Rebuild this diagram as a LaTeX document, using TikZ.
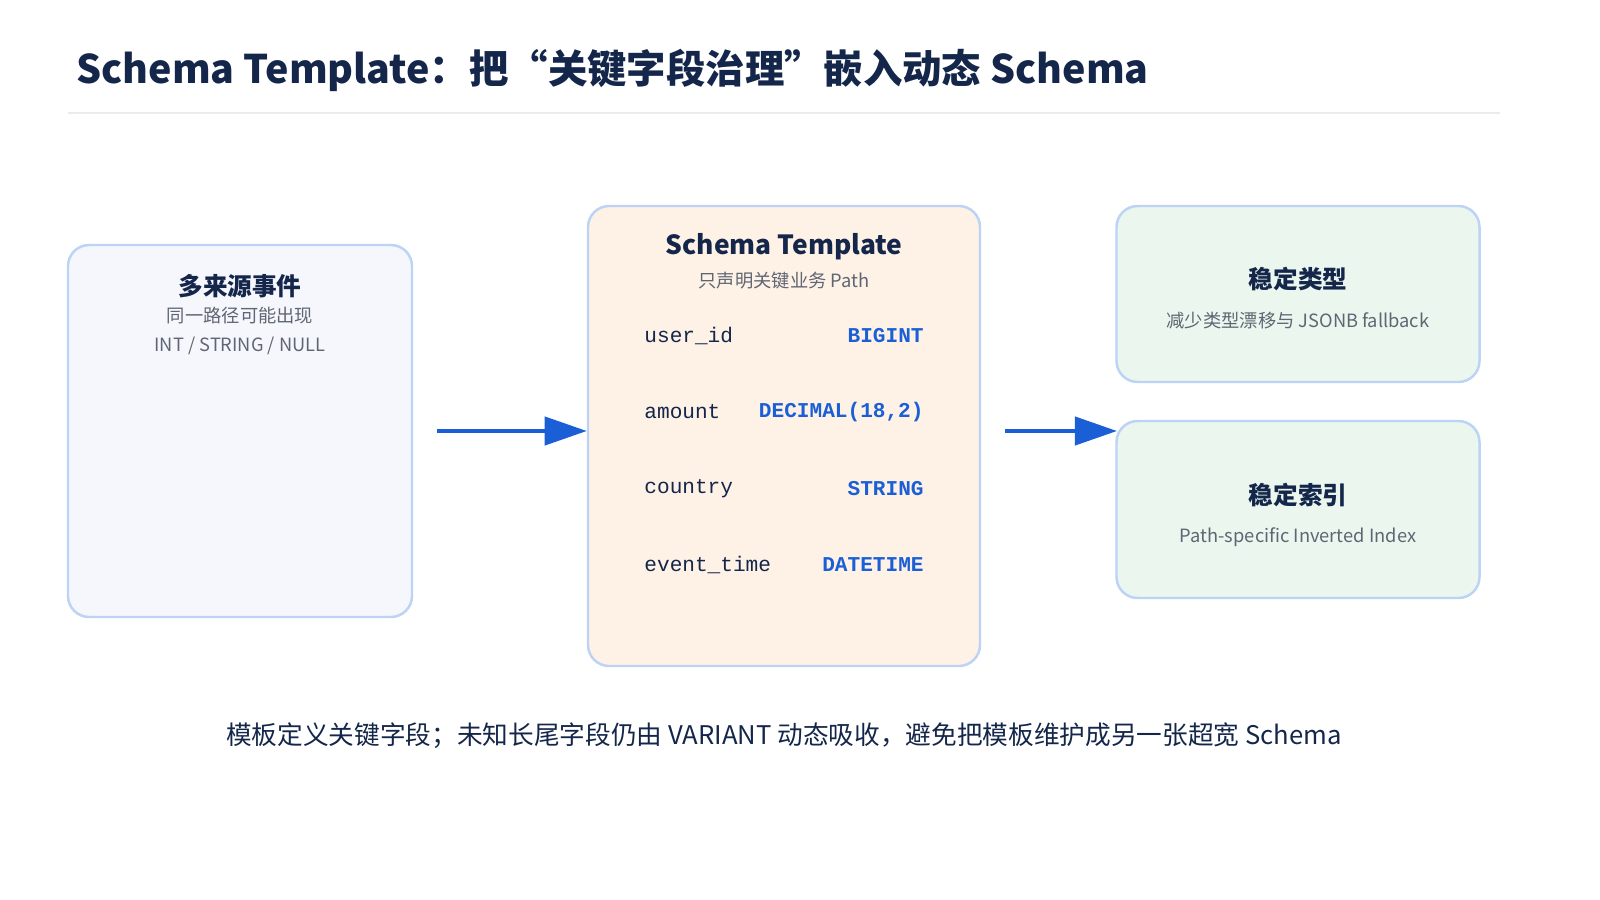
\documentclass[tikz,border=0pt]{standalone}
\usepackage{fontspec}
\setmainfont{Noto Sans CJK SC}
\setmonofont{Liberation Mono}
\usetikzlibrary{positioning,arrows.meta,calc}
\definecolor{navy}{HTML}{14264A}
\definecolor{greytext}{HTML}{5F6673}
\definecolor{edge}{HTML}{BCD3F5}
\definecolor{typeblue}{HTML}{1A5FD6}
\definecolor{srcfill}{HTML}{F5F7FC}
\definecolor{tplfill}{HTML}{FEF1E6}
\definecolor{outfill}{HTML}{EAF6EE}
\tikzset{
  card/.style={draw=edge,line width=0.7pt,rounded corners=6pt},
  head/.style={text=navy,font=\fontsize{7}{8}\selectfont\bfseries},
  sub/.style={text=greytext,font=\fontsize{5.2}{6}\selectfont},
  field/.style={anchor=west,text=navy,font=\fontsize{6}{7}\ttfamily},
  ftype/.style={anchor=east,text=typeblue,font=\fontsize{6}{7}\ttfamily\bfseries},
  flow/.style={-{Triangle[length=12pt,width=8pt]},typeblue,line width=1.2pt},
}
\begin{document}
\begin{tikzpicture}[x=0.01cm,y=-0.01cm]
  \useasboundingbox (0,0) rectangle (1600,900);
  % title
  \node[anchor=west,text=navy,font=\fontsize{11.2}{13}\selectfont\bfseries] (title) at (64,70)
    {Schema Template：把“关键字段治理”嵌入动态 Schema};
  \draw[black!8,line width=0.6pt] (68,113) -- (1500,113);
  % cards
  \node[card,fill=srcfill,minimum width=344*0.01cm,minimum height=372*0.01cm] (src) at (240,431) {};
  \node[card,fill=tplfill,minimum width=392*0.01cm,minimum height=460*0.01cm] (tpl) at (784,436) {};
  \node[card,fill=outfill,minimum width=363*0.01cm,minimum height=176*0.01cm] (typ) at (1298,294) {};
  \node[card,fill=outfill,minimum width=363*0.01cm,minimum height=177*0.01cm] (idx) at (1298,509.5) {};
  % card texts
  \node[head] (srchead) at (240,286) {多来源事件};
  \node[sub] at (240,316) {同一路径可能出现};
  \node[sub] at (240,346) {INT / STRING / NULL};
  \node[head,font=\fontsize{7.5}{8}\selectfont\bfseries] (tplhead) at (784,247) {Schema Template};
  \node[sub] at (784,281) {只声明关键业务 Path};
  \foreach \y/\f/\t in {336/user\_id/BIGINT,412/amount/{DECIMAL(18,2)},489/country/STRING,565/event\_time/DATETIME}{
    \node[field] at (632,\y) {\f};
    \node[ftype] at (936,\y) {\t};
  }
  \node[head] (typhead) at (1298,279) {稳定类型};
  \node[sub] at (1298,321) {减少类型漂移与 JSONB fallback};
  \node[head] (idxhead) at (1298,495) {稳定索引};
  \node[sub] at (1298,537) {Path-specific Inverted Index};
  % arrows
  \coordinate (join) at (1117,431);
  \draw[flow] ([xshift=0.24cm]src.east |- 0,431) -- (tpl.west |- 0,431);
  \draw[flow] ([xshift=0.24cm]tpl.east |- 0,431) -- (join);
  % caption
  \node[text=navy,font=\fontsize{7.3}{8}\selectfont] (note) at (784,736)
    {模板定义关键字段；未知长尾字段仍由 VARIANT 动态吸收，避免把模板维护成另一张超宽 Schema};
\end{tikzpicture}
\end{document}
